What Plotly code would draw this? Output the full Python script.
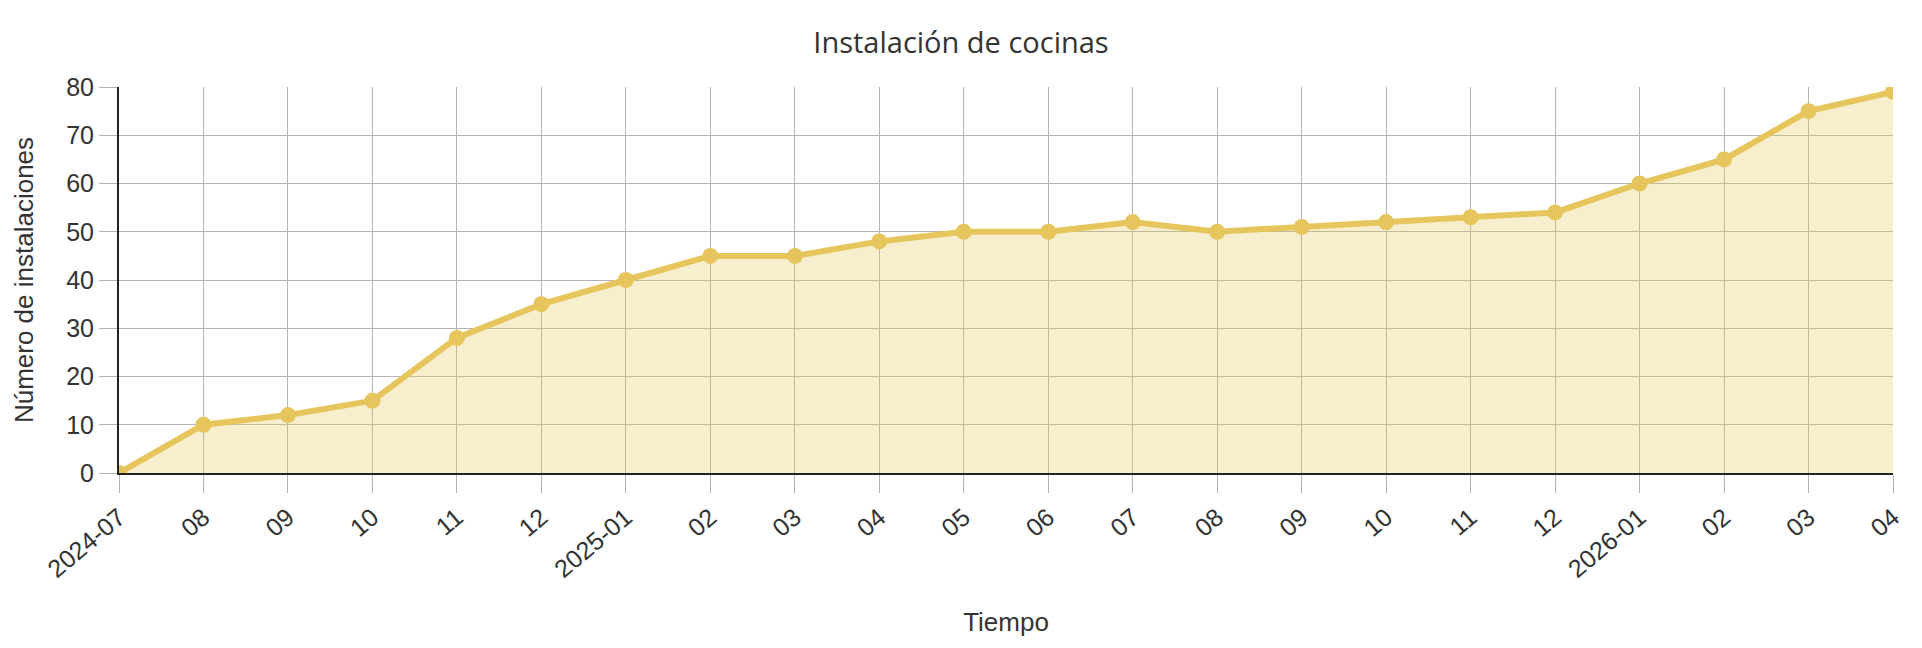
import plotly.graph_objects as go

months = ["2024-07", "2024-08", "2024-09", "2024-10", "2024-11", "2024-12",
          "2025-01", "2025-02", "2025-03", "2025-04", "2025-05", "2025-06",
          "2025-07", "2025-08", "2025-09", "2025-10", "2025-11", "2025-12",
          "2026-01", "2026-02", "2026-03", "2026-04"]
tick_labels = ["2024-07", "08", "09", "10", "11", "12",
               "2025-01", "02", "03", "04", "05", "06",
               "07", "08", "09", "10", "11", "12",
               "2026-01", "02", "03", "04"]
installations = [0, 10, 12, 15, 28, 35, 40, 45, 45, 48, 50, 50,
                 52, 50, 51, 52, 53, 54, 60, 65, 75, 79]

title_text = "Instalación de cocinas"
x_title = "Tiempo"
y_title = "Número de instalaciones"

line_color = "#E6C65C"
fill_color = "rgba(230,198,92,0.30)"
grid_color = "#B4B4B4"
text_color = "#333333"

fig = go.Figure()
fig.add_trace(go.Scatter(
    x=months, y=installations,
    mode="lines+markers",
    line=dict(color=line_color, width=6),
    marker=dict(color=line_color, size=16),
    fill="tozeroy", fillcolor=fill_color,
    hoverinfo="x+y", showlegend=False,
))

fig.update_layout(
    width=1922, height=648,
    margin=dict(l=119, r=29, t=87, b=175),
    paper_bgcolor="white", plot_bgcolor="white",
    title=dict(text=title_text, x=0.5, xanchor="center", y=1 - 43 / 648, yanchor="middle",
               font=dict(family="Open Sans", size=29, color=text_color)),
    font=dict(family="Liberation Sans", size=25, color=text_color),
)

fig.update_xaxes(
    type="category",
    range=[0, len(months) - 1],
    tickmode="array", tickvals=months, ticktext=tick_labels,
    tickangle=-40,
    ticks="outside", ticklen=18, tickcolor=grid_color, tickwidth=1,
    showgrid=True, gridcolor=grid_color, gridwidth=1,
    showline=True, linecolor="#222222", linewidth=2,
    zeroline=False,
    tickfont=dict(family="Liberation Sans", size=25, color=text_color),
    title=dict(text=x_title, standoff=31, font=dict(family="Liberation Sans", size=26, color=text_color)),
)
fig.update_yaxes(
    range=[0, 80], dtick=10,
    ticks="outside", ticklen=18, tickcolor=grid_color, tickwidth=1,
    showgrid=True, gridcolor=grid_color, gridwidth=1,
    showline=True, linecolor="#222222", linewidth=2,
    zeroline=False,
    tickfont=dict(family="Liberation Sans", size=25, color=text_color),
    title=dict(text=y_title, standoff=25, font=dict(family="Liberation Sans", size=26, color=text_color)),
)

fig.write_html("out.html")
